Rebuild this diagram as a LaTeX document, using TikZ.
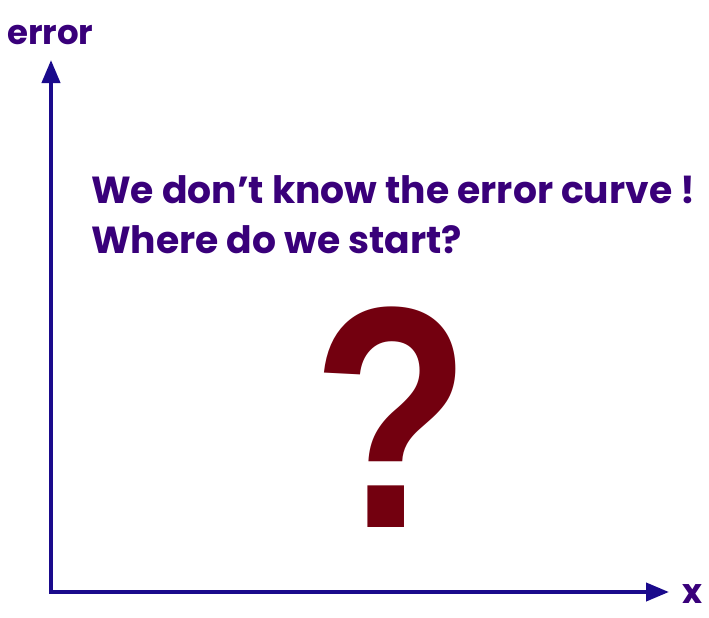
\documentclass[tikz,border=0pt]{standalone}
\usepackage{fontspec}
\usetikzlibrary{arrows.meta}
\newfontfamily\popfont{Poppins}
\newfontfamily\qmfont{Liberation Sans}
\definecolor{axisblue}{HTML}{1A0A8C}
\definecolor{textpurple}{HTML}{39007A}
\definecolor{qmred}{HTML}{73000F}

\begin{document}
\begin{tikzpicture}[x=1pt,y=-1pt,
    axis/.style={draw=axisblue,line width=4pt,{Triangle[length=23pt,width=18pt]}-{Triangle[length=23pt,width=18pt]}},
    axlabel/.style={text=textpurple,font=\popfont\bfseries\fontsize{34}{40}\selectfont,inner sep=0pt,anchor=base west},
    msg/.style={text=textpurple,font=\popfont\bfseries\fontsize{37.7}{44}\selectfont,inner sep=0pt,anchor=base west},
    qmark/.style={text=qmred,font=\qmfont\bfseries\fontsize{316}{320}\selectfont,inner sep=0pt}
  ]
  \useasboundingbox (0,0) rectangle (709,618);
  % axes
  \coordinate (origin) at (51,592);
  \coordinate (ytip) at (51,60);
  \coordinate (xtip) at (669,592);
  \draw[axis] (ytip) -- (origin) -- (xtip);
  \node[axlabel] (ylab) at (7,45) {error};
  \node[axlabel] (xlab) at (682,603) {x};

  % message
  \node[msg] (line1) at (91,203) {We don’t know the error curve !};
  \node[msg] (line2) at (91,253) {Where do we start?};
  \node[qmark] (qm) at (391.5,417.5) {\scalebox{0.82}[1]{?}};
\end{tikzpicture}
\end{document}
